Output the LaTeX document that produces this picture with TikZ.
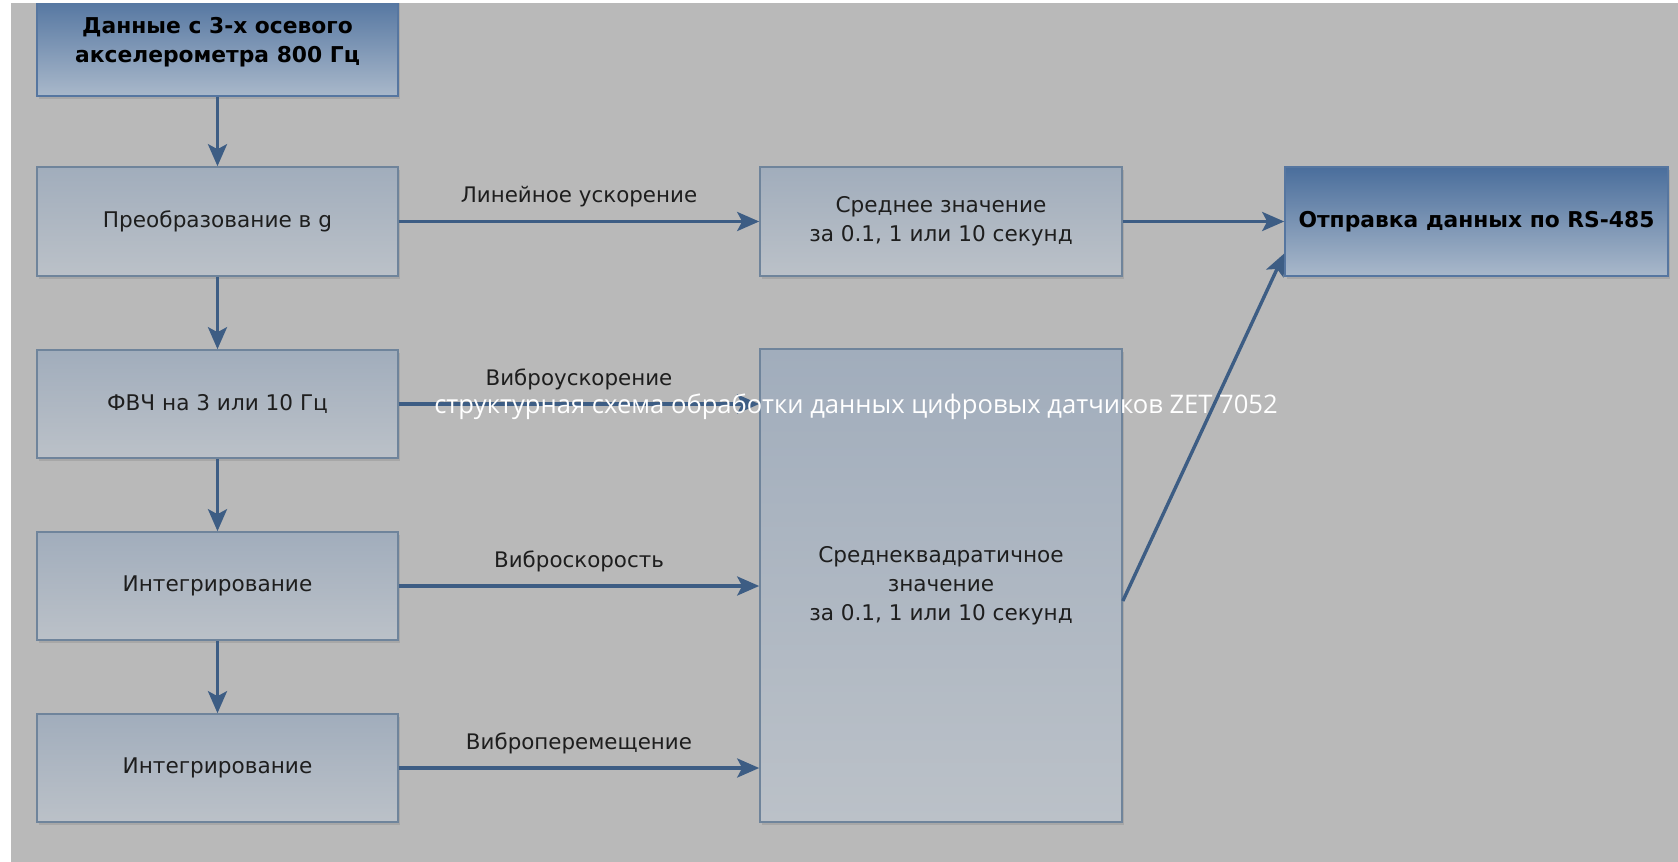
\documentclass[tikz,border=0pt]{standalone}
\usepackage{fontspec}
\setmainfont{DejaVu Sans}
\newfontfamily\wmfont{Open Sans}
\usetikzlibrary{arrows.meta,shadows}
\definecolor{bgray}{HTML}{B9B9B9}
\definecolor{lboxtop}{HTML}{A1ADBC}
\definecolor{lboxbot}{HTML}{BBC1C8}
\definecolor{lboxline}{HTML}{6F849B}
\definecolor{dboxtop}{HTML}{4A6E9C}
\definecolor{dboxbot}{HTML}{A9B8CA}
\definecolor{dboxline}{HTML}{5676A0}
\definecolor{arrcol}{HTML}{3D5D84}
\definecolor{txt}{HTML}{1E1E1E}
\tikzset{
  boxbase/.style={rectangle, draw, line width=0.8pt, inner sep=0pt, align=center,
    text=txt, font=\fontsize{10.8pt}{14.5pt}\selectfont,
    drop shadow={shadow xshift=1pt, shadow yshift=-1.5pt, opacity=0.3}},
  lbox/.style={boxbase, draw=lboxline, top color=lboxtop, bottom color=lboxbot},
  dbox/.style={boxbase, draw=dboxline, top color=dboxtop, bottom color=dboxbot,
    font=\fontsize{10.9pt}{14.5pt}\selectfont\bfseries, text=black},
  arr/.style={draw=arrcol, line width=1.7pt, -{Stealth[length=11pt, width=9.5pt, inset=2.5pt]}},
  lbl/.style={text=txt, font=\fontsize{10.7pt}{12pt}\selectfont, inner sep=0pt},
  wm/.style={text=white, font=\wmfont\fontsize{12.8pt}{14pt}\selectfont, inner sep=0pt}
}
\begin{document}
\begin{tikzpicture}[x=0.5pt, y=-0.5pt]
\fill[white] (0,0) rectangle (1678,862);
\useasboundingbox (0,0) rectangle (1678,862);
\fill[bgray] (11,3) rectangle (1678,862);

% left column
\begin{scope}
\clip (0,3) rectangle (1678,862);
\node[dbox, minimum width=180.5pt, minimum height=54pt] (b1) at (217.5,42)
  {Данные с 3-х осевого\\акселерометра 800 Гц};
\end{scope}
\node[lbox, minimum width=180.5pt, minimum height=54.5pt] (b2) at (217.5,221.5)
  {Преобразование в g};
\node[lbox, minimum width=180.5pt, minimum height=54pt] (b3) at (217.5,404)
  {ФВЧ на 3 или 10 Гц};
\node[lbox, minimum width=180.5pt, minimum height=54pt] (b4) at (217.5,586)
  {Интегрирование};
\node[lbox, minimum width=180.5pt, minimum height=54pt] (b5) at (217.5,768)
  {Интегрирование};

% middle column
\node[lbox, minimum width=181pt, minimum height=54.5pt] (mean) at (941,221.5)
  {Среднее значение\\за 0.1, 1 или 10 секунд};
\node[lbox, minimum width=181pt, minimum height=236.5pt] (rms) at (941,585.5)
  {Среднеквадратичное\\значение\\за 0.1, 1 или 10 секунд};

% right
\node[dbox, minimum width=191.5pt, minimum height=54.5pt] (send) at (1476.5,221.5)
  {Отправка данных по RS-485};

% vertical arrows
\draw[arr] (b1.south) -- (b2.north);
\draw[arr] (b2.south) -- (b3.north);
\draw[arr] (b3.south) -- (b4.north);
\draw[arr] (b4.south) -- (b5.north);

% horizontal arrows
\draw[arr] (b2.east) -- (mean.west)
  node[lbl, midway, yshift=12.5pt] (l1) {Линейное ускорение};
\draw[arr] (b3.east) -- (b3.east -| rms.west)
  node[lbl, midway, yshift=12.5pt] (l2) {Виброускорение};
\draw[arr] (b4.east) -- (b4.east -| rms.west)
  node[lbl, midway, yshift=12.5pt] (l3) {Виброскорость};
\draw[arr] (b5.east) -- (b5.east -| rms.west)
  node[lbl, midway, yshift=12.5pt] (l4) {Виброперемещение};
\draw[arr] (mean.east) -- (send.west);
\draw[arr] ([yshift=-7.75pt]rms.east) -- ([yshift=-16pt]send.west);

% overlay caption
\node[wm] (cap) at (856,407) {структурная схема обработки данных цифровых датчиков ZET 7052};
\end{tikzpicture}
\end{document}
